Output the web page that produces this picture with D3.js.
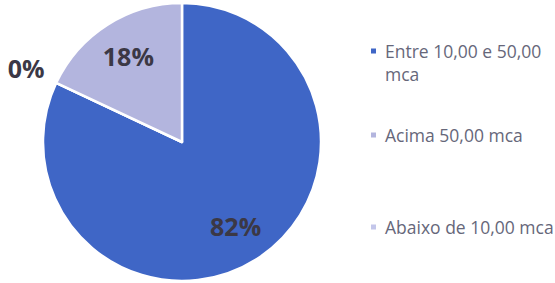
<!DOCTYPE html>
<html>
<head>
<meta charset="utf-8">
<script src="https://cdn.jsdelivr.net/npm/d3@7"></script>
<style>
  body { margin: 0; background: #fff; }
  .pctLabel { font-family: "Open Sans", sans-serif; font-weight: bold; font-size: 25px; fill: #3b3845; }
  .legText { font-family: "Open Sans", sans-serif; font-size: 17.5px; fill: #66677a; }
</style>
</head>
<body>
<div class="chart"></div>
<script>
var svgWidth = 555;
var svgHeight = 283;

// Data (pie order, clockwise from 12 o'clock)
var categories = ["Entre 10,00 e 50,00 mca", "Abaixo de 10,00 mca", "Acima 50,00 mca"];
var values = [82, 0, 18];
var pctLabels = ["82%", "0%", "18%"];
var colors = ["#3f66c6", "#c3c6ea", "#b3b5de"];

// Legend order as in the reference
var legendOrder = [0, 2, 1];
var legendLines = [["Entre 10,00 e 50,00", "mca"], ["Acima 50,00 mca"], ["Abaixo de 10,00 mca"]];

var cx = 182, cy = 142, radius = 139;

var svg = d3.select(".chart")
  .append("svg")
  .attr("width", svgWidth)
  .attr("height", svgHeight);

var pieGroup = svg.append("g")
  .attr("transform", `translate(${cx}, ${cy})`);

var pie = d3.pie().sort(null).value(d => d);
var arcs = pie(values);

var arc = d3.arc().innerRadius(0).outerRadius(radius);

pieGroup.selectAll("path")
  .data(arcs)
  .enter()
  .append("path")
  .attr("d", arc)
  .attr("fill", (d, i) => colors[i])
  .attr("stroke", "#fff")
  .attr("stroke-width", 2.5)
  .attr("stroke-linejoin", "round");

// Labels: inside for real slices, outside for the zero slice
var inside = d3.arc().innerRadius(radius * 0.72).outerRadius(radius * 0.72);
var outside = d3.arc().innerRadius(radius * 1.24).outerRadius(radius * 1.24);

pieGroup.selectAll("text.pctLabel")
  .data(arcs)
  .enter()
  .append("text")
  .attr("class", "pctLabel")
  .attr("transform", d => `translate(${(d.value > 0 ? inside : outside).centroid(d)})`)
  .attr("text-anchor", "middle")
  .attr("dy", "0.36em")
  .text((d, i) => pctLabels[i]);

// Legend
var legendY = [51, 135, 227];
var legend = svg.append("g").attr("transform", "translate(371, 0)");

legendOrder.forEach(function(idx, k) {
  var g = legend.append("g").attr("transform", `translate(0, ${legendY[k]})`);
  g.append("rect")
    .attr("x", 0)
    .attr("y", -2.5)
    .attr("width", 5)
    .attr("height", 5)
    .attr("fill", colors[idx]);
  var t = g.append("text")
    .attr("class", "legText")
    .attr("x", 14)
    .attr("y", 7);
  legendLines[k].forEach(function(line, j) {
    t.append("tspan")
      .attr("x", 14)
      .attr("dy", j === 0 ? 0 : 23)
      .text(line);
  });
});
</script>
</body>
</html>
